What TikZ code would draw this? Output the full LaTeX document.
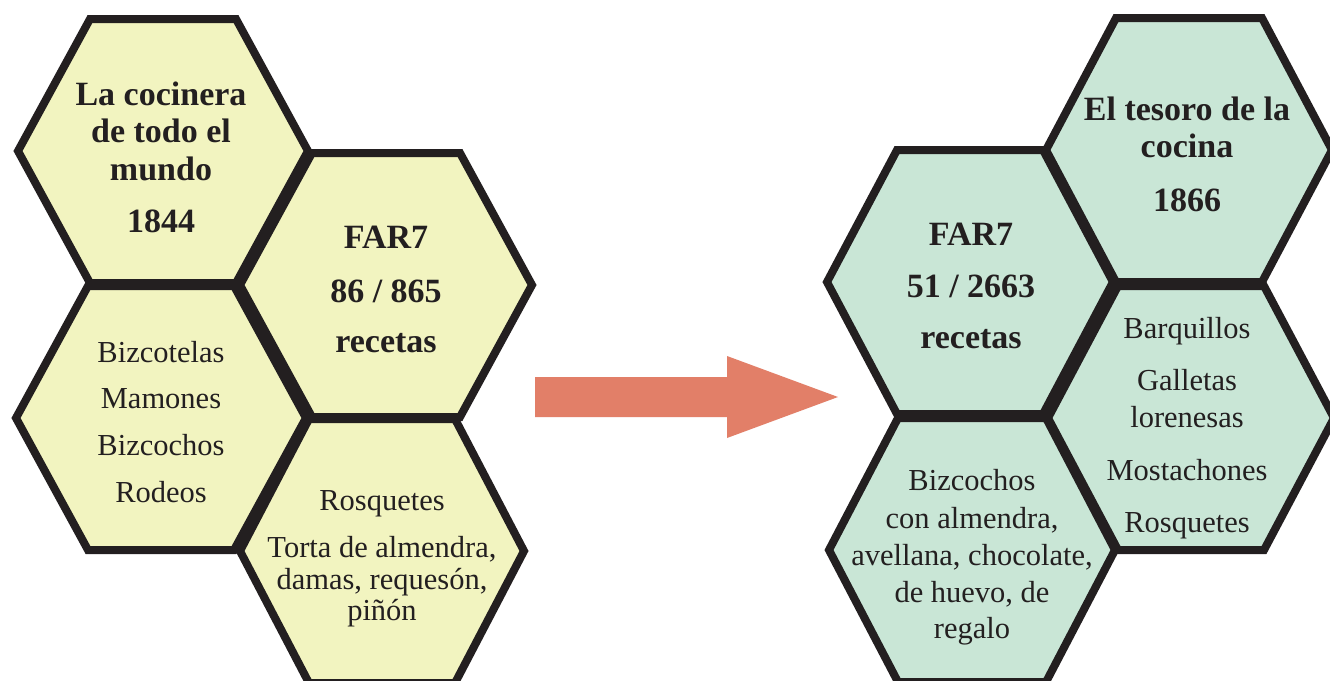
\documentclass[tikz,border=0pt]{standalone}
\usepackage{fontspec}
\setmainfont{Liberation Serif}
\definecolor{ink}{HTML}{231F20}
\definecolor{oldfill}{HTML}{F2F4C0}
\definecolor{newfill}{HTML}{C9E6D6}
\definecolor{arrowfill}{HTML}{E27F68}
\tikzset{
  pics/hex/.style n args={3}{code={
    \draw[#3] (-#1,0) -- (-#2,-132) -- (#2,-132) -- (#1,0) -- (#2,132) -- (-#2,132) -- cycle;
  }},
  oldhex/.style={fill=oldfill, draw=ink, line width=8pt, line join=miter},
  newhex/.style={fill=newfill, draw=ink, line width=8pt, line join=miter},
  txt/.style={anchor=base, inner sep=0pt, text=ink, font=\fontsize{30.5}{36}\selectfont},
  txtb/.style={anchor=base, inner sep=0pt, text=ink, font=\fontsize{34}{40}\selectfont\bfseries},
}
\begin{document}
\begin{tikzpicture}[x=1pt, y=-1pt]
\useasboundingbox (0,0) rectangle (1330,680);
\clip (0,0) rectangle (1330,680);
\fill[white] (0,0) rectangle (1330,680);

% ---- 1844 group ----
\pic at (163,151) {hex={145}{73}{oldhex}};
\pic at (161,418) {hex={145}{73}{oldhex}};
\pic at (386,285) {hex={146}{74}{oldhex}};
\pic at (382,551) {hex={142}{73}{oldhex}};

\node[txtb] (a1) at (161,105) {La cocinera};
\node[txtb] (a2) at (161,142) {de todo el};
\node[txtb] (a3) at (161,180) {mundo};
\node[txtb] (a4) at (161,232) {1844};

\node[txtb] (b1) at (386,248) {FAR7};
\node[txtb] (b2) at (386,302) {86 / 865};
\node[txtb] (b3) at (386,352) {recetas};

\node[txt] (c1) at (161,362) {Bizcotelas};
\node[txt] (c2) at (161,408) {Mamones};
\node[txt] (c3) at (161,455) {Bizcochos};
\node[txt] (c4) at (161,502) {Rodeos};

\node[txt] (d1) at (382,510) {Rosquetes};
\node[txt] (d2) at (382,557) {Torta de almendra,};
\node[txt] (d3) at (382,589) {damas, requesón,};
\node[txt] (d4) at (382,620) {piñón};

% ---- arrow ----
\fill[arrowfill] (535,377) -- (727,377) -- (727,356) -- (838,397) -- (727,438) -- (727,417) -- (535,417) -- cycle;

% ---- 1866 group ----
\pic at (1189,150) {hex={143}{73}{newhex}};
\pic at (970,282) {hex={143}{73}{newhex}};
\pic at (1191,418) {hex={143}{73}{newhex}};
\pic at (972,550) {hex={143}{74}{newhex}};

\node[txtb] (e1) at (1187,120) {El tesoro de la};
\node[txtb] (e2) at (1187,157) {cocina};
\node[txtb] (e3) at (1187,211) {1866};

\node[txtb] (f1) at (971,245) {FAR7};
\node[txtb] (f2) at (971,297) {51 / 2663};
\node[txtb] (f3) at (971,348) {recetas};

\node[txt] (g1) at (1187,338) {Barquillos};
\node[txt] (g2) at (1187,390) {Galletas};
\node[txt] (g3) at (1187,427) {lorenesas};
\node[txt] (g4) at (1187,480) {Mostachones};
\node[txt] (g5) at (1187,532) {Rosquetes};

\node[txt] (h1) at (972,490) {Bizcochos};
\node[txt] (h2) at (972,528) {con almendra,};
\node[txt] (h3) at (972,565) {avellana, chocolate,};
\node[txt] (h4) at (972,602) {de huevo, de};
\node[txt] (h5) at (972,638) {regalo};
\end{tikzpicture}
\end{document}
